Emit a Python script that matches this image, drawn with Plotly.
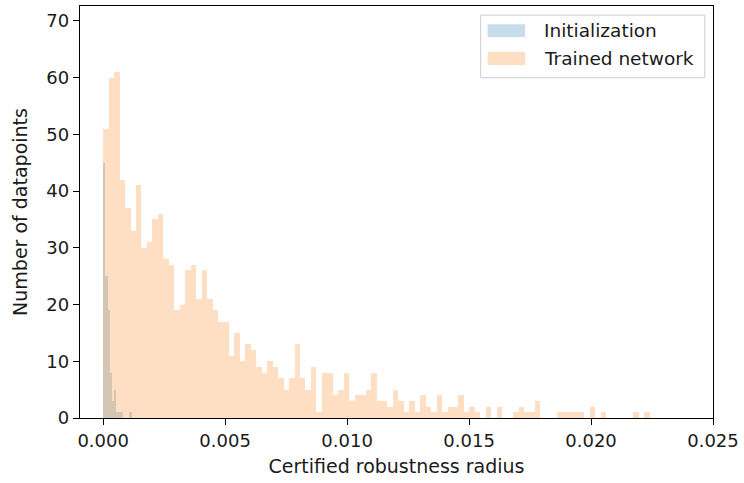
import plotly.graph_objects as go

# ---- data ----
trained_counts = [
    51, 60, 61, 42, 37, 33, 41, 30, 31, 35, 36, 28, 27, 19, 20, 26, 27, 21, 26, 21,
    19, 17, 17, 11, 15, 10, 13, 12, 9, 8, 10, 9, 7, 5, 7, 13, 7, 5, 9, 1, 8,
    8, 4, 5, 8, 3, 4, 4, 5, 8, 3, 3, 2, 5, 3, 1, 3, 1, 4, 2, 1, 4, 1,
    2, 2, 4, 1, 2, 1, 0, 2, 0, 2, 0, 0, 1, 2, 1, 1, 3,
    0, 0, 0, 1, 1, 1, 1, 1, 0, 2, 0, 1, 0, 0, 0, 0, 0, 1, 0, 1,
]
init_counts = [45, 25, 19, 8, 3, 5, 1, 1, 1, 0, 0, 0, 1]

trained_bin_start = 0.0
trained_bin_width = 0.0002241
init_bin_start = 0.0
init_bin_width = 0.0000896

x_ticks = [0.000, 0.005, 0.010, 0.015, 0.020, 0.025]
y_ticks = [0, 10, 20, 30, 40, 50, 60, 70]
x_range = [-0.00095, 0.025]
y_range = [0, 72.6]

trained_left = [trained_bin_start + i * trained_bin_width for i in range(len(trained_counts))]
init_left = [init_bin_start + i * init_bin_width for i in range(len(init_counts))]

BLUE = "rgba(31,119,180,0.25)"
ORANGE = "rgba(255,127,14,0.25)"
FONT = "DejaVu Sans"
TXT = "#1a1a1a"

fig = go.Figure()
fig.add_trace(go.Bar(
    x=init_left, y=init_counts, width=init_bin_width, offset=0,
    marker=dict(color=BLUE, line=dict(width=0)), name="Initialization",
    showlegend=False,
))
fig.add_trace(go.Bar(
    x=trained_left, y=trained_counts, width=trained_bin_width, offset=0,
    marker=dict(color=ORANGE, line=dict(width=0)), name="Trained network",
    showlegend=False,
))

# legend drawn like matplotlib's (wide patches)
lx0, lx1, ly0, ly1 = 0.633, 0.987, 0.826, 0.978
shapes = [
    dict(type="rect", xref="paper", yref="paper", x0=lx0, x1=lx1, y0=ly0, y1=ly1,
         line=dict(color="#cccccc", width=1), fillcolor="rgba(255,255,255,0.8)", layer="above"),
    dict(type="rect", xref="paper", yref="paper", x0=0.644, x1=0.703, y0=0.925, y1=0.956,
         line=dict(width=0), fillcolor=BLUE, layer="above"),
    dict(type="rect", xref="paper", yref="paper", x0=0.644, x1=0.703, y0=0.857, y1=0.889,
         line=dict(width=0), fillcolor=ORANGE, layer="above"),
]
annotations = [
    dict(text="Initialization", xref="paper", yref="paper", x=0.730, y=0.940,
         xanchor="left", yanchor="middle", showarrow=False,
         font=dict(family=FONT, size=18.5, color=TXT)),
    dict(text="Trained network", xref="paper", yref="paper", x=0.730, y=0.872,
         xanchor="left", yanchor="middle", showarrow=False,
         font=dict(family=FONT, size=18.5, color=TXT)),
]

fig.update_layout(
    width=744, height=483,
    margin=dict(l=80, r=27, t=5, b=65, pad=0),
    paper_bgcolor="white", plot_bgcolor="white",
    barmode="overlay", bargap=0,
    shapes=shapes, annotations=annotations,
    font=dict(family=FONT, size=18, color=TXT),
)
fig.update_xaxes(
    range=x_range, tickvals=x_ticks, tickformat=".3f",
    showgrid=False, zeroline=False,
    showline=True, mirror=True, linecolor="black", linewidth=1.3,
    ticks="outside", ticklen=6, tickwidth=1.3, tickcolor="black",
    tickfont=dict(family=FONT, size=18, color=TXT),
    title=dict(text="Certified robustness radius", font=dict(family=FONT, size=19, color=TXT), standoff=9),
)
fig.update_yaxes(
    range=y_range, tickvals=y_ticks,
    showgrid=False, zeroline=False,
    showline=True, mirror=True, linecolor="black", linewidth=1.3,
    ticks="outside", ticklen=6, tickwidth=1.3, tickcolor="black",
    tickfont=dict(family=FONT, size=18, color=TXT),
    title=dict(text="Number of datapoints", font=dict(family=FONT, size=19, color=TXT), standoff=13),
)

fig.write_html("out.html")
